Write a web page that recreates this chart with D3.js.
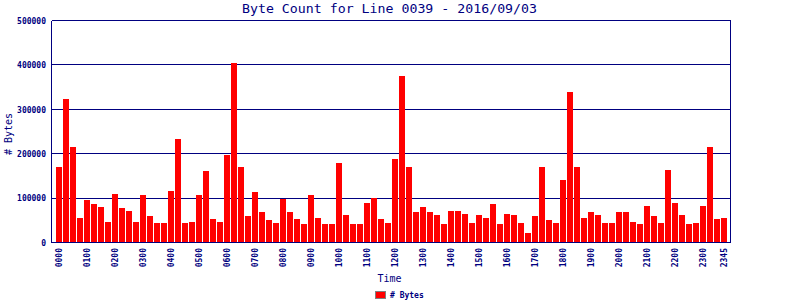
<!DOCTYPE html>
<html>
<head>
<meta charset="utf-8">
<script src="https://cdn.jsdelivr.net/npm/d3@7"></script>
<style>
  html, body { margin: 0; padding: 0; background: #fff; }
  svg { display: block; }
</style>
</head>
<body>
<svg id="chart" width="800" height="300"></svg>
<script>
// ---- data ----
const title = "Byte Count for Line 0039 - 2016/09/03";
const seriesName = "# Bytes";
const xTitle = "Time";
const yTitle = "# Bytes";
const times = [];
for (let h = 0; h < 24; h++) for (let m = 0; m < 60; m += 15)
  times.push(String(h).padStart(2, "0") + String(m).padStart(2, "0"));
const bytes = [
  171000, 324000, 216000, 56000, 95000, 86000, 81000, 47000,
  110000, 77000, 70000, 47000, 108000, 59000, 45000, 43000,
  115000, 234000, 45000, 47000, 106000, 160000, 52000, 47000,
  198000, 405000, 169000, 59000, 113000, 68000, 50000, 45000,
  97000, 68000, 52000, 41000, 108000, 56000, 41000, 41000,
  180000, 61000, 41000, 41000, 88000, 101000, 54000, 45000,
  187000, 376000, 169000, 68000, 79000, 68000, 61000, 41000,
  70000, 70000, 65000, 43000, 61000, 56000, 86000, 41000,
  65000, 63000, 43000, 22000, 59000, 171000, 50000, 45000,
  140000, 340000, 169000, 56000, 68000, 63000, 43000, 45000,
  68000, 68000, 47000, 41000, 83000, 59000, 45000, 164000,
  88000, 63000, 41000, 43000, 83000, 216000, 52000, 56000
];
const xTickLabels = ["0000","0100","0200","0300","0400","0500","0600","0700","0800","0900","1000","1100",
  "1200","1300","1400","1500","1600","1700","1800","1900","2000","2100","2200","2300","2345"];
const yTickValues = [0, 100000, 200000, 300000, 400000, 500000];

// ---- layout ----
const navy = "#000080";
const red = "#ff0000";
const pL = 51.5, pR = 730.5, pT = 20.5, pB = 242.5;
const svg = d3.select("#chart");

const x = d3.scaleBand().domain(times).range([56, 727]).paddingInner(1/7).paddingOuter(0);
const y = d3.scaleLinear().domain([0, 500000]).range([pB, pT]);

// gridlines
svg.append("g").selectAll("line").data(yTickValues).join("line")
  .attr("x1", pL).attr("x2", pR)
  .attr("y1", d => Math.round(y(d) - 0.5) + 0.5).attr("y2", d => Math.round(y(d) - 0.5) + 0.5)
  .attr("stroke", navy).attr("stroke-width", 1).attr("shape-rendering", "crispEdges");

// bars
svg.append("g").selectAll("rect").data(times).join("rect")
  .attr("x", d => x(d))
  .attr("width", x.bandwidth())
  .attr("y", (d, i) => Math.round(y(bytes[i])))
  .attr("height", (d, i) => pB - Math.round(y(bytes[i])))
  .attr("fill", red).attr("shape-rendering", "crispEdges");

// frame
const frame = svg.append("g").attr("stroke", navy).attr("stroke-width", 1).attr("shape-rendering", "crispEdges");
frame.append("line").attr("x1", pL).attr("x2", pL).attr("y1", pT).attr("y2", pB);
frame.append("line").attr("x1", pR).attr("x2", pR).attr("y1", pT).attr("y2", pB);
frame.append("line").attr("x1", pL).attr("x2", pR).attr("y1", pB).attr("y2", pB);

// y axis labels
const yAxis = d3.axisLeft(y).tickValues(yTickValues).tickSize(0).tickPadding(0).tickFormat(d3.format("d"));
const yg = svg.append("g").attr("transform", "translate(46,0)").call(yAxis);
yg.select(".domain").remove();
yg.selectAll("text")
  .attr("fill", navy)
  .attr("font-family", "DejaVu Sans Mono, monospace")
  .attr("font-weight", "bold")
  .attr("font-size", "8px")
  .attr("dy", "0.35em");

// x axis labels
const xAxis = d3.axisBottom(x).tickValues(xTickLabels).tickSize(0).tickPadding(0);
const xg = svg.append("g").attr("transform", "translate(0,246)").call(xAxis);
xg.select(".domain").remove();
xg.selectAll("text")
  .attr("fill", navy)
  .attr("font-family", "DejaVu Sans Mono, monospace")
  .attr("font-weight", "bold")
  .attr("font-size", "8px")
  .attr("text-anchor", "end")
  .attr("transform", "rotate(-90)")
  .attr("x", -2).attr("y", 0).attr("dy", "0.35em");

// title
svg.append("text").attr("x", 389.5).attr("y", 13)
  .attr("text-anchor", "middle")
  .attr("fill", navy)
  .attr("font-family", "DejaVu Sans Mono, monospace")
  .attr("font-size", "13px")
  .attr("textLength", 295).attr("lengthAdjust", "spacingAndGlyphs")
  .text(title);

// x title
svg.append("text").attr("x", 389.5).attr("y", 282)
  .attr("text-anchor", "middle")
  .attr("fill", navy)
  .attr("font-family", "DejaVu Sans Mono, monospace")
  .attr("font-size", "10px")
  .text(xTitle);

// y title
svg.append("text").attr("transform", "translate(12,134) rotate(-90)")
  .attr("text-anchor", "middle")
  .attr("fill", navy)
  .attr("font-family", "DejaVu Sans Mono, monospace")
  .attr("font-size", "11px")
  .attr("textLength", 42).attr("lengthAdjust", "spacingAndGlyphs")
  .text(yTitle);

// legend
const lg = svg.append("g");
lg.append("rect").attr("x", 375.5).attr("y", 291.5).attr("width", 10).attr("height", 7)
  .attr("fill", red).attr("stroke", "#808080").attr("stroke-width", 1).attr("shape-rendering", "crispEdges");
lg.append("text").attr("x", 390).attr("y", 298)
  .attr("fill", navy)
  .attr("font-family", "DejaVu Sans Mono, monospace")
  .attr("font-weight", "bold")
  .attr("font-size", "8px")
  .text(seriesName);
</script>
</body>
</html>
